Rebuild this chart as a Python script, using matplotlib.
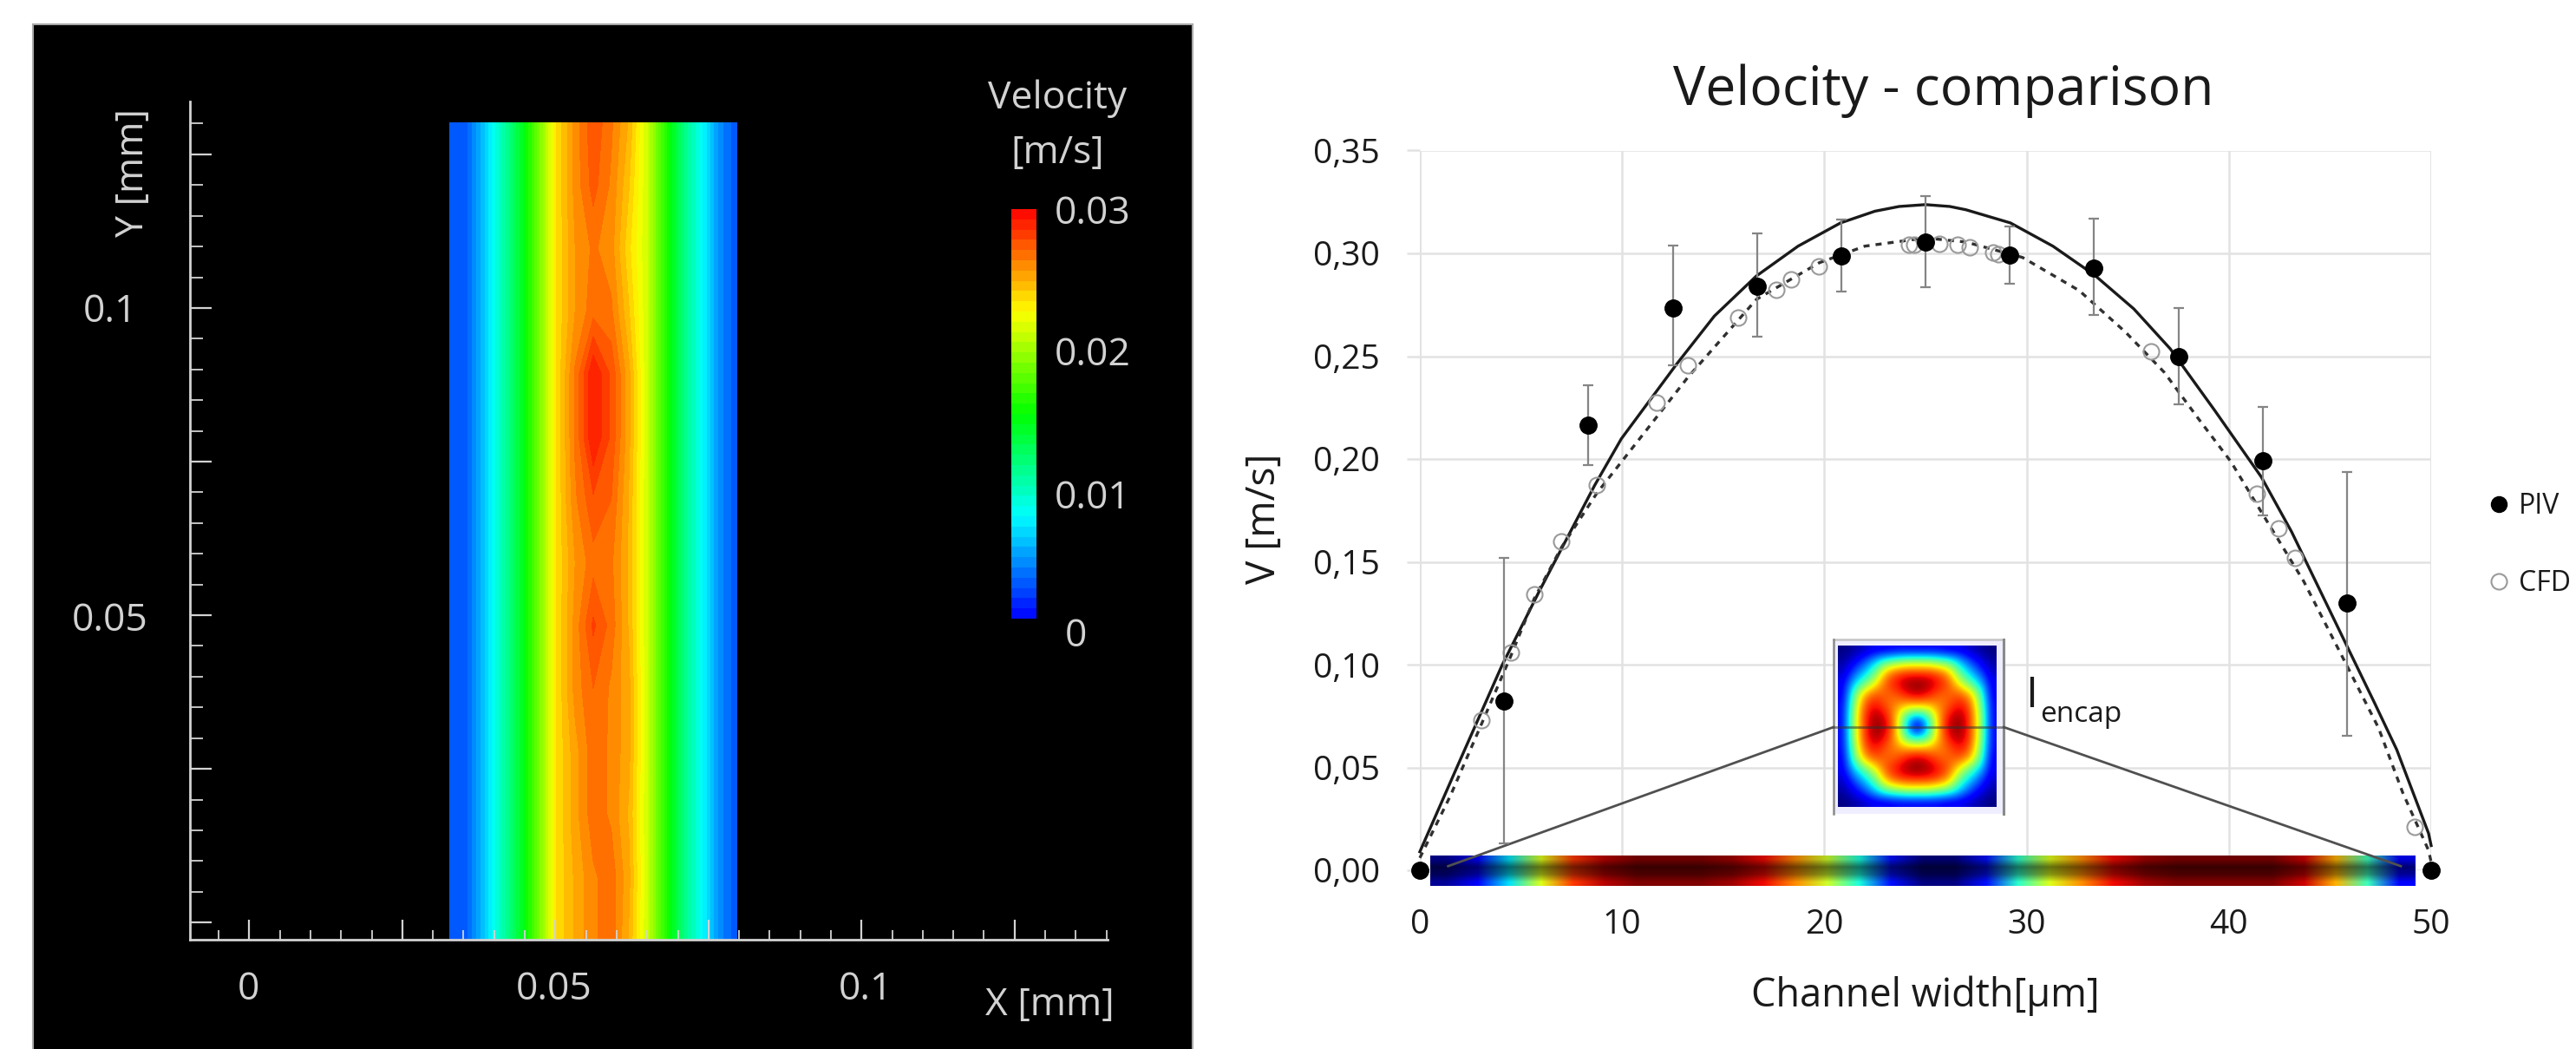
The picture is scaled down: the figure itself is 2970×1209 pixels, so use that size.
import numpy as np
import matplotlib
matplotlib.use("Agg")
import matplotlib.pyplot as plt
from matplotlib.colors import LinearSegmentedColormap
from matplotlib.lines import Line2D
from matplotlib.ticker import MultipleLocator, NullFormatter

plt.rcParams['font.family'] = ['Open Sans', 'DejaVu Sans']

# ---- left panel data ----
# velocity field, fraction of full scale (0.03 m/s), rows from top to bottom
field_left = [0.08, 0.10, 0.20, 0.33, 0.46, 0.62, 0.78]
field_right = [0.70, 0.54, 0.38, 0.26, 0.14, 0.08]
field_centre = [
    [0.86, 0.92, 0.88, 0.82],
    [0.86, 0.91, 0.87, 0.80],
    [0.85, 0.88, 0.86, 0.78],
    [0.85, 0.89, 0.88, 0.80],
    [0.88, 0.975, 0.92, 0.83],
    [0.88, 0.975, 0.92, 0.83],
    [0.87, 0.92, 0.90, 0.82],
    [0.85, 0.89, 0.88, 0.82],
    [0.86, 0.93, 0.89, 0.82],
    [0.86, 0.90, 0.87, 0.83],
    [0.84, 0.89, 0.87, 0.83],
    [0.84, 0.89, 0.87, 0.82],
    [0.83, 0.87, 0.89, 0.83],
    [0.83, 0.87, 0.89, 0.82],
]
field_xlim = [0.03265, 0.0797]
field_ylim = [-0.0028, 0.1302]
scale_max = 0.03
scale_ticks = [0, 0.01, 0.02, 0.03]
scale_labels = ['0', '0.01', '0.02', '0.03']
rainbow = ['#0000ff', '#00ffff', '#00ff00', '#ffff00', '#ff0000']

# ---- right panel data ----
piv_x = [0, 4.17, 8.33, 12.5, 16.67, 20.83, 25, 29.17, 33.33, 37.5, 41.67, 45.83, 50]
piv_y = [0, 0.0823, 0.2164, 0.2734, 0.284, 0.2987, 0.3056, 0.2992, 0.293, 0.2498, 0.1992, 0.13, 0]
piv_hi = [0, 0.152, 0.236, 0.304, 0.3095, 0.3165, 0.328, 0.3129, 0.3169, 0.2734, 0.2253, 0.1937, 0]
piv_lo = [0, 0.013, 0.197, 0.2456, 0.2595, 0.2814, 0.2835, 0.2854, 0.27, 0.2266, 0.1726, 0.0654, 0]

cfd_x = [3.03, 4.49, 5.65, 7.0, 8.76, 11.7, 13.25, 15.72, 17.62, 18.34, 19.74, 24.2, 24.45,
         25.7, 26.6, 27.2, 28.35, 28.6, 36.15, 41.4, 42.47, 43.27, 49.17]
cfd_y = [0.073, 0.106, 0.134, 0.16, 0.1873, 0.2276, 0.2454, 0.2688, 0.2823, 0.2873, 0.2937, 0.3043, 0.3043,
         0.3046, 0.3043, 0.303, 0.3004, 0.2995, 0.2523, 0.1832, 0.1662, 0.1519, 0.0211]

solid_x = [0, 1.83, 4.06, 5.9, 8.65, 9.96, 12.7, 14.56, 16.64, 18.7, 20.8, 22.5, 23.7, 25, 26.2, 27, 29.2,
           31.3, 33.35, 35.3, 37.1, 39.3, 41.6, 43.1, 45.8, 47.2, 48.3, 49.87, 50]
solid_y = [0.009, 0.05, 0.0996, 0.1356, 0.1873, 0.2098, 0.2462, 0.2695, 0.289, 0.3035, 0.3148, 0.3205, 0.3228, 0.3237,
           0.3228, 0.3212, 0.3148, 0.3035, 0.2895, 0.273, 0.2536, 0.2236, 0.1913, 0.1646, 0.1098, 0.0814, 0.0586, 0.018, 0.012]

dashed_x = [0, 1.5, 3, 4.49, 5.65, 7, 8.76, 10.08, 13.25, 16.64, 19.74, 22, 25, 27, 29.8, 32.6,
            34.9, 36.8, 38.5, 40.1, 41.6, 43.7, 46, 47.4, 48.6, 49.87, 50]
dashed_y = [0.006, 0.036, 0.07, 0.104, 0.132, 0.157, 0.1835, 0.2, 0.2397, 0.2776, 0.2954, 0.3035, 0.3075, 0.3055,
            0.298, 0.2819, 0.2616, 0.2422, 0.2195, 0.1987, 0.1743, 0.1405, 0.0963, 0.0692, 0.0376, 0.0097, 0.004]

# jet values along the strip under the chart
strip_values = [0.02, 0.12, 0.35, 0.62, 0.85, 0.95, 1.0, 1.0, 1.0, 0.97, 0.9, 0.76, 0.6, 0.38, 0.14,
                0.0, 0.0, 0.14, 0.4, 0.62, 0.76, 0.9, 0.97, 1.0, 1.0, 1.0, 1.0, 0.93, 0.72, 0.42, 0.12]
# brightness across the strip, top to bottom
strip_shade = [0.85, 0.45, 0.6, 1.0]
strip_xlim = [0.5, 49.2]
strip_ylim = [-0.0076, 0.0068]

# one quadrant of the channel section (jet values), edge to centre
section_quadrant = [
    [0.00, 0.03, 0.06, 0.10, 0.10, 0.12, 0.12, 0.12],
    [0.03, 0.10, 0.20, 0.32, 0.45, 0.50, 0.55, 0.55],
    [0.06, 0.20, 0.32, 0.46, 0.72, 0.82, 0.85, 0.85],
    [0.10, 0.32, 0.46, 0.62, 0.82, 0.90, 0.97, 1.00],
    [0.10, 0.45, 0.72, 0.82, 0.80, 0.82, 0.90, 0.95],
    [0.12, 0.50, 0.82, 0.90, 0.82, 0.76, 0.72, 0.72],
    [0.12, 0.55, 0.85, 0.97, 0.90, 0.72, 0.42, 0.32],
    [0.12, 0.55, 0.85, 1.00, 0.95, 0.72, 0.32, 0.00],
]
section_xlim = [20.67, 28.5]
section_ylim = [0.0308, 0.1089]
frame_xlim = [20.45, 28.87]
frame_ylim = [0.0274, 0.1122]
link_left_x = [20.45, 1.4]
link_right_x = [28.87, 48.5]
link_y = [0.0696, 0.002]

W, H = 2970, 1209
fig = plt.figure(figsize=(W / 100, H / 100), dpi=100, facecolor='white')


def px_axes(x0, y0, x1, y1):
    # axes from pixel box (y counted from the top of the picture)
    return fig.add_axes([x0 / W, 1 - y1 / H, (x1 - x0) / W, (y1 - y0) / H])


# ---- left: black panel with velocity field ----
panel = px_axes(38, 28, 1375, 1215)
panel.set_facecolor('black')
panel.set_xticks([])
panel.set_yticks([])
for s in panel.spines.values():
    s.set_color('#a8a8a8')
    s.set_linewidth(1.5)

light = '#d2d2d2'
ax = px_axes(219, 117, 1277, 1083)
ax.patch.set_alpha(0)
ax.set_xlim(-0.0097, 0.1402)
ax.set_ylim(-0.0028, 0.1336)

cmap_field = LinearSegmentedColormap.from_list('rainbow_field', rainbow)
field = np.hstack([np.tile(field_left, (len(field_centre), 1)),
                   np.array(field_centre),
                   np.tile(field_right, (len(field_centre), 1))]) * scale_max
fx = np.linspace(field_xlim[0], field_xlim[1], field.shape[1])
fy = np.linspace(field_ylim[1], field_ylim[0], field.shape[0])
cf = ax.contourf(fx, fy, field, levels=np.linspace(0, scale_max, 41), cmap=cmap_field, zorder=1)

for side in ['top', 'right']:
    ax.spines[side].set_visible(False)
for side in ['left', 'bottom']:
    ax.spines[side].set_color(light)
    ax.spines[side].set_linewidth(2)
    ax.spines[side].set_zorder(3)
ax.xaxis.set_major_locator(MultipleLocator(0.025))
ax.xaxis.set_minor_locator(MultipleLocator(0.005))
ax.yaxis.set_major_locator(MultipleLocator(0.025))
ax.yaxis.set_minor_locator(MultipleLocator(0.005))
ax.xaxis.set_major_formatter(NullFormatter())
ax.yaxis.set_major_formatter(NullFormatter())
ax.tick_params(axis='x', which='major', direction='in', length=16.5, width=1.6, color=light)
ax.tick_params(axis='x', which='minor', direction='in', length=8, width=1.3, color=light)
ax.tick_params(axis='y', which='major', direction='in', length=18, width=1.6, color=light)
ax.tick_params(axis='y', which='minor', direction='in', length=11, width=1.3, color=light)

fs_left = 32
for label, px in zip(['0', '0.05', '0.1'], [286, 639, 998]):
    fig.text(px / W, 1 - 1141 / H, label, color=light, fontsize=fs_left, ha='center', va='center')
for label, py in zip(['0.1', '0.05'], [360, 716]):
    fig.text(127 / W, 1 - py / H, label, color=light, fontsize=fs_left, ha='center', va='center')
fig.text(1210 / W, 1 - 1159 / H, 'X [mm]', color=light, fontsize=fs_left, ha='center', va='center')
fig.text(154 / W, 1 - 199 / H, 'Y [mm]', color=light, fontsize=fs_left, rotation=90, ha='center', va='center')
fig.text(1219 / W, 1 - 114 / H, 'Velocity', color=light, fontsize=fs_left, ha='center', va='center')
fig.text(1219 / W, 1 - 177 / H, '[m/s]', color=light, fontsize=fs_left, ha='center', va='center')

cax = px_axes(1166, 241, 1195, 713)
cb = fig.colorbar(cf, cax=cax)
cb.set_ticks([])
cb.outline.set_visible(False)
for tick, label, py in zip(scale_ticks, scale_labels, [734, 575, 410, 247]):
    xpos = 1240 if tick == 0 else 1260
    fig.text(xpos / W, 1 - py / H, label, color=light, fontsize=fs_left, ha='center', va='center')

# ---- right: velocity comparison ----
ax2 = px_axes(1637, 173.5, 2803, 1003)
ax2.set_xlim(0, 50)
ax2.set_ylim(0, 0.35)
ax2.set_xticks([0, 10, 20, 30, 40, 50])
ax2.set_yticks(np.arange(0, 0.351, 0.05))
ax2.set_yticklabels([('%.2f' % v).replace('.', ',') for v in np.arange(0, 0.351, 0.05)])
ax2.grid(True, color='#e2e2e2', linewidth=1.8)
ax2.set_axisbelow(True)
for s in ax2.spines.values():
    s.set_visible(False)
ax2.axvline(0, color='#dcdcdc', lw=1.8, zorder=0)
ax2.axvline(50, color='#e2e2e2', lw=1.8, zorder=0)
ax2.tick_params(axis='y', length=11, width=1.8, color='#e2e2e2', labelsize=28, pad=22, labelcolor='#1a1a1a')
ax2.tick_params(axis='x', length=0, labelsize=28, pad=32, labelcolor='#1a1a1a')

# strip with the flow profile, darker along the middle
strip_rgb = plt.get_cmap('jet')(np.array(strip_values))[:, :3]
strip_img = np.stack([strip_rgb * s for s in strip_shade])
ax2.imshow(strip_img, extent=[strip_xlim[0], strip_xlim[1], strip_ylim[0], strip_ylim[1]], aspect='auto',
           interpolation='bilinear', zorder=2, clip_on=False)

# channel section inset
quad = np.array(section_quadrant)
top = np.hstack([quad, quad[:, -2::-1]])
section = np.vstack([top, top[-2::-1]])
ax2.add_patch(plt.Rectangle((frame_xlim[0], frame_ylim[0]), frame_xlim[1] - frame_xlim[0], frame_ylim[1] - frame_ylim[0],
                            facecolor='#eeeeff', edgecolor='none', zorder=3))
ax2.plot([frame_xlim[0], frame_xlim[1]], [frame_ylim[1], frame_ylim[1]], color='#c4c4c4', lw=1.8, zorder=3)
ax2.plot([frame_xlim[0], frame_xlim[0]], frame_ylim, color='#8a8a8a', lw=1.8, zorder=3)
ax2.plot([frame_xlim[1], frame_xlim[1]], frame_ylim, color='#8a8a8a', lw=2.2, zorder=3)
ax2.imshow(section, extent=[section_xlim[0], section_xlim[1], section_ylim[0], section_ylim[1]], aspect='auto',
           cmap='jet', vmin=0, vmax=1, interpolation='bicubic', zorder=4)
ax2.plot(frame_xlim, [link_y[0], link_y[0]], color='#303030', alpha=0.55, lw=2, zorder=5)
ax2.plot(link_left_x, link_y, color='#505050', lw=2, zorder=5)
ax2.plot(link_right_x, link_y, color='#505050', lw=2, zorder=5)
ax2.set_xlim(0, 50)
ax2.set_ylim(0, 0.35)

ax2.plot(solid_x, solid_y, color='#1a1a1a', lw=2.4, zorder=6, clip_on=False)
ax2.plot(dashed_x, dashed_y, color='#303030', lw=2.4, linestyle=(0, (2.1, 2.1)), zorder=6, clip_on=False)
ax2.plot(cfd_x, cfd_y, linestyle='none', marker='o', ms=13, mfc='none', mec='#9a9a9a', mew=1.5, zorder=7, clip_on=False)
err_low = np.array(piv_y) - np.array(piv_lo)
err_high = np.array(piv_hi) - np.array(piv_y)
ax2.errorbar(piv_x, piv_y, yerr=[err_low, err_high], linestyle='none', marker='o', ms=14, mfc='black', mec='black',
             ecolor='#858585', elinewidth=1.6, capsize=4.5, capthick=1.6, zorder=8, clip_on=False)

fig.text(2241 / W, 1 - 105 / H, 'Velocity - comparison', color='#1a1a1a', fontsize=45, ha='center', va='center')
fig.text(2220 / W, 1 - 1148 / H, 'Channel width[µm]', color='#1a1a1a', fontsize=32.5, ha='center', va='center')
fig.text(1458 / W, 1 - 598 / H, 'V [m/s]', color='#1a1a1a', fontsize=33, rotation=90, ha='center', va='center')
fig.text(2335 / W, 1 - 802 / H, 'I', color='#1a1a1a', fontsize=36, ha='left', va='center')
fig.text(2352 / W, 1 - 823 / H, 'encap', color='#1a1a1a', fontsize=24, ha='left', va='center')

handles = [Line2D([], [], linestyle='none', marker='o', ms=13, mfc='black', mec='black'),
           Line2D([], [], linestyle='none', marker='o', ms=13, mfc='none', mec='#9a9a9a', mew=1.5)]
fig.legend(handles, ['PIV', 'CFD'], loc='center left', bbox_to_anchor=(2843 / W, 1 - 628 / H), frameon=False,
           fontsize=23, labelspacing=1.75, handletextpad=0.0, handlelength=1.4, borderpad=0, labelcolor='#1a1a1a')

fig.savefig('out.png', dpi=100)
